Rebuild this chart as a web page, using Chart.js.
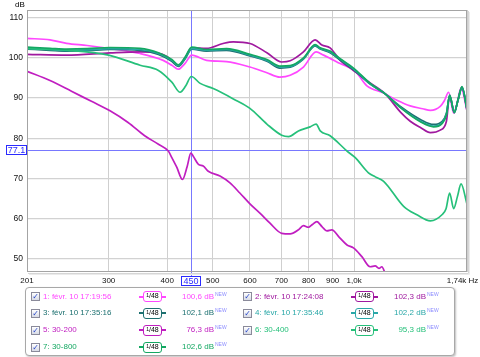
<!DOCTYPE html>
<html><head><meta charset="utf-8">
<script src="https://cdn.jsdelivr.net/npm/chart.js@4/dist/chart.umd.min.js"></script>
<style>
body{margin:0;background:#fff;width:480px;height:357px;overflow:hidden;font-family:"Liberation Sans",Arial,sans-serif;position:relative;}
#c{position:absolute;left:0;top:0;}
#legend{position:absolute;left:25px;top:287px;width:428px;height:67px;border:1px solid #a8a8a8;border-radius:4px;box-shadow:1px 1px 2px rgba(0,0,0,0.25);background:#fff;}
.el{position:absolute;white-space:nowrap;font-size:8px;line-height:10px;}
.cb{position:absolute;width:7px;height:7px;border:1px solid #8a8a9a;background:linear-gradient(#fff,#d8dbe6);font-size:8px;line-height:7px;color:#2848c8;text-align:center;font-family:"DejaVu Sans",sans-serif;}
.ln{position:absolute;height:2px;}
.ic{position:absolute;box-sizing:border-box;width:19px;height:11px;border:1.5px solid;border-radius:3px;background:#fff;color:#000;font-size:7px;line-height:8px;text-align:center;}
.ic sup{font-size:5px;position:relative;top:-1px;vertical-align:baseline}
.new{position:absolute;font-size:5px;line-height:6px;color:#8c8cff;}
</style>
</head><body>
<canvas id="c" width="480" height="290"></canvas>
<div id="legend"></div>
<script>
// ---- data ----
const seriesNames = ['1: févr. 10 17:19:56','2: févr. 10 17:24:08','3: févr. 10 17:35:16','4: févr. 10 17:35:46','5: 30-200','6: 30-400','7: 30-800'];
const seriesColors = ['#ff48ff','#a0199f','#1d7070','#2aa8a8','#c01ec0','#26c07a','#14a862'];
const cursorValues = ['100,6','102,3','102,1','102,2','76,3','95,3','102,6'];

const f1 = [201,225,244,270,302,350,392,409,422,436,451,485,535,600,650,695,731,780,830,861,889,934,1006,1065,1156,1234,1317,1400,1454,1526,1557,1590,1630,1660,1690,1740];
const d1 = [104.75,104.4,103.5,103.0,102.25,101.0,99.3,98.1,97.1,98.5,100.6,99.3,99.0,97.65,96.3,95.15,95.6,97.65,101.4,100.6,99.8,98.5,96.6,93.0,91.2,89.4,88.0,87.3,86.9,87.9,89.3,91.4,86.2,89.0,92.5,86.8];

const f2 = [201,244,302,350,380,400,422,436,451,485,526,553,600,652,701,731,780,826,854,889,934,997,1082,1165,1257,1317,1387,1454,1526,1573,1598,1635,1665,1698,1740];
const d2 = [100.8,100.6,101.15,101.4,101.15,100.2,97.9,99.8,102.4,102.3,103.5,103.9,103.5,101.2,98.9,99.2,101.4,104.4,103.1,102.4,99.3,96.8,93.7,91.0,86.4,84.2,82.6,81.4,82.0,84.2,90.5,86.4,89.5,92.65,86.8];

const fBand = [201,225,244,270,302,350,383,409,422,436,451,485,535,600,652,695,731,780,826,847,889,934,997,1082,1165,1257,1387,1477,1539,1573,1598,1635,1665,1698,1740];
const d3 = [102.1,101.8,101.6,101.7,102.0,101.8,100.8,99.1,97.8,99.6,102.1,101.6,101.8,100.4,99.1,97.4,97.6,99.6,102.9,102.1,101.2,99.4,97.0,93.4,91.0,87.8,84.6,83.4,84.1,86.2,90.5,86.5,89.4,92.5,87.3];
const d4 = [102.3,102.0,101.8,101.9,102.2,102.0,101.0,99.3,98.0,99.8,102.2,101.8,102.0,100.6,99.3,97.65,97.8,99.75,103.0,102.25,101.4,99.6,97.2,93.5,91.0,87.6,84.2,83.0,83.8,86.0,90.6,86.4,89.5,92.65,87.2];
const d7 = [102.6,102.3,102.1,102.2,102.5,102.3,101.2,99.5,98.2,100.0,102.6,102.0,102.2,100.8,99.5,97.9,98.0,99.9,103.2,102.4,101.6,99.7,97.4,93.6,91.0,87.5,84.0,82.8,83.6,85.8,90.7,86.3,89.6,92.8,87.1];

const f5 = [201,225,250,275,302,330,358,383,402,409,419,431,441,449,454,466,477,489,518,544,571,600,630,662,701,731,760,780,799,815,833,855,875,897,930,966,997,1039,1082,1109,1130,1146,1165];
const d5 = [96.6,94.3,91.65,89.2,86.8,83.9,80.6,78.5,76.8,75.2,72.8,69.75,73.0,76.3,75.6,73.5,73.1,71.8,70.6,68.9,66.4,63.7,61.4,58.9,56.4,56.25,57.2,58.3,57.9,58.6,59.3,58.0,57.0,57.25,55.4,53.5,52.8,50.6,48.1,48.3,47.7,48.1,46.4];

const f6 = [201,246,300,350,383,409,426,438,450,470,501,553,600,652,701,725,761,806,830,847,889,966,1006,1073,1110,1156,1275,1361,1454,1539,1570,1598,1630,1660,1690,1740];
const d6 = [102.2,101.8,100.6,98.1,96.8,93.9,91.4,93.0,95.3,93.6,92.3,89.75,87.4,83.5,80.75,80.4,81.8,82.8,83.5,81.8,80.6,76.8,75.15,71.4,70.4,69.3,63.1,61.0,59.5,61.0,62.5,66.4,62.5,65.5,68.65,63.65];

const xTickValues = [201,300,400,500,600,700,800,900,1000,1740];
const xTickLabels = ['201','300','400','500','600','700','800','900','1,0k','1,74k Hz    '];
const yTickValues = [50,60,70,80,90,100,110];
const cursorFreq = 450;
const cursorDb = 77.1;
const cursorFreqLabel = '450';
const cursorDbLabel = '77.1';

// ---- build ----
const seriesFreqs = [f1,f2,fBand,fBand,f5,f6,fBand];
const seriesDb = [d1,d2,d3,d4,d5,d6,d7];
const FONT = '"Liberation Sans", Arial, sans-serif';

const datasets = seriesNames.map((n,i)=>({
  label:n,
  data: seriesFreqs[i].map((f,k)=>({x:f,y:seriesDb[i][k]})),
  borderColor: seriesColors[i],
  borderWidth: 1.7,
  pointRadius: 0,
  fill:false,
  cubicInterpolationMode:'monotone',
  order: 8-i
}));

const decor = {
  id:'decor',
  beforeDraw(chart){
    const {ctx, chartArea:a} = chart;
    ctx.save();
    ctx.fillStyle='#fff';
    ctx.fillRect(a.left,a.top,a.right-a.left,a.bottom-a.top);
    ctx.restore();
  },
  beforeDatasetsDraw(chart){
    const {ctx, chartArea:a, scales:{x,y}} = chart;
    const cx = Math.round(x.getPixelForValue(cursorFreq))+0.5;
    const cy = Math.round(y.getPixelForValue(cursorDb))+0.5;
    ctx.save();
    ctx.strokeStyle='#7878ff';
    ctx.lineWidth=1;
    ctx.beginPath();
    ctx.moveTo(cx,a.top); ctx.lineTo(cx,a.bottom+4);
    ctx.moveTo(a.left,cy); ctx.lineTo(a.right,cy);
    ctx.stroke();
    ctx.restore();
  },
  afterDraw(chart){
    const {ctx, chartArea:a, scales:{x,y}} = chart;
    ctx.save();
    // shadow
    ctx.strokeStyle='#d6d6d6'; ctx.lineWidth=1;
    ctx.beginPath();
    ctx.moveTo(a.right+1.5,a.top+1); ctx.lineTo(a.right+1.5,a.bottom+1.5); ctx.lineTo(a.left+1,a.bottom+1.5);
    ctx.stroke();
    ctx.strokeStyle='#ebebeb';
    ctx.beginPath();
    ctx.moveTo(a.right+2.5,a.top+2); ctx.lineTo(a.right+2.5,a.bottom+2.5); ctx.lineTo(a.left+2,a.bottom+2.5);
    ctx.stroke();
    // frame
    ctx.strokeStyle='#a4a4a4';
    ctx.strokeRect(Math.round(a.left)+0.5,Math.round(a.top)+0.5,Math.round(a.right-a.left)-1,Math.round(a.bottom-a.top)-1);
    // dB label
    ctx.fillStyle='#000';
    ctx.font='8px '+FONT;
    ctx.textAlign='left'; ctx.textBaseline='top';
    ctx.fillText('dB',15,1);
    // cursor labels
    const cx = Math.round(x.getPixelForValue(cursorFreq));
    const cy = Math.round(y.getPixelForValue(cursorDb));
    ctx.font='9px '+FONT;
    ctx.textAlign='center'; ctx.textBaseline='middle';
    ctx.fillStyle='#fff'; ctx.strokeStyle='#2a2aff';
    ctx.fillRect(cx-10,a.bottom+4,19,10);
    ctx.strokeRect(cx-9.5,a.bottom+4.5,19,9);
    ctx.fillStyle='#2a2aff';
    ctx.fillText(cursorFreqLabel,cx,a.bottom+9.5);
    ctx.fillStyle='#fff';
    ctx.fillRect(6,cy-5,21,10);
    ctx.strokeRect(6.5,cy-4.5,20,9);
    ctx.fillStyle='#2a2aff';
    ctx.fillText(cursorDbLabel,16.5,cy+0.5);
    ctx.restore();
  }
};

new Chart(document.getElementById('c'),{
  type:'line',
  data:{datasets},
  options:{
    responsive:false,
    devicePixelRatio:1,
    animation:false,
    events:[],
    layout:{padding:{top:10,right:13,left:0,bottom:0}},
    plugins:{legend:{display:false},tooltip:{enabled:false}},
    scales:{
      x:{
        type:'logarithmic',
        min:201,max:1740,
        afterBuildTicks:s=>{s.ticks=xTickValues.map(v=>({value:v}));},
        afterFit:s=>{s.height=18;s.paddingLeft=0;s.paddingRight=0;},
        grid:{color:'#cfcfcf',lineWidth:1,drawTicks:false},
        border:{display:false},
        ticks:{autoSkip:false,maxRotation:0,minRotation:0,padding:4,color:'#111',font:{family:FONT,size:8},
          callback:(v,i)=>xTickLabels[i]}
      },
      y:{
        type:'linear',
        min:46.8,max:111.8,
        afterBuildTicks:s=>{s.ticks=yTickValues.map(v=>({value:v}));},
        afterFit:s=>{s.width=27;s.paddingTop=0;s.paddingBottom=0;},
        grid:{color:'#d2d2d2',lineWidth:1.3,drawTicks:false},
        border:{display:false},
        ticks:{padding:4,color:'#111',font:{family:FONT,size:8.5}}
      }
    }
  },
  plugins:[decor]
});

// ---- legend (HTML) ----
const rowsY = [296.7,313.3,330.3,347];
const body = document.body;
function add(cls, css, html){
  const d=document.createElement('div'); d.className=cls; Object.assign(d.style,css); if(html!==undefined) d.innerHTML=html; body.appendChild(d); return d;
}
seriesNames.forEach((n,i)=>{
  const col=i%2, row=Math.floor(i/2);
  const cx = col?243:31, cy=rowsY[row];
  const c = seriesColors[i];
  add('cb',{left:cx+'px',top:(cy-4.5)+'px'},'✓');
  add('el',{left:(cx+12)+'px',top:(cy-5)+'px',color:c},n);
  add('ln',{left:(cx+108)+'px',top:(cy-1)+'px',width:'27px',background:c});
  add('ic',{left:(cx+112)+'px',top:(cy-5.5)+'px',borderColor:c},'<sup>1</sup>/48');
  add('el',{left:(cx+120)+'px',top:(cy-5)+'px',width:'63px',textAlign:'right',color:c},cursorValues[i]+' dB');
  add('new',{left:(cx+184)+'px',top:(cy-6)+'px'},'NEW');
});
</script>
</body></html>
